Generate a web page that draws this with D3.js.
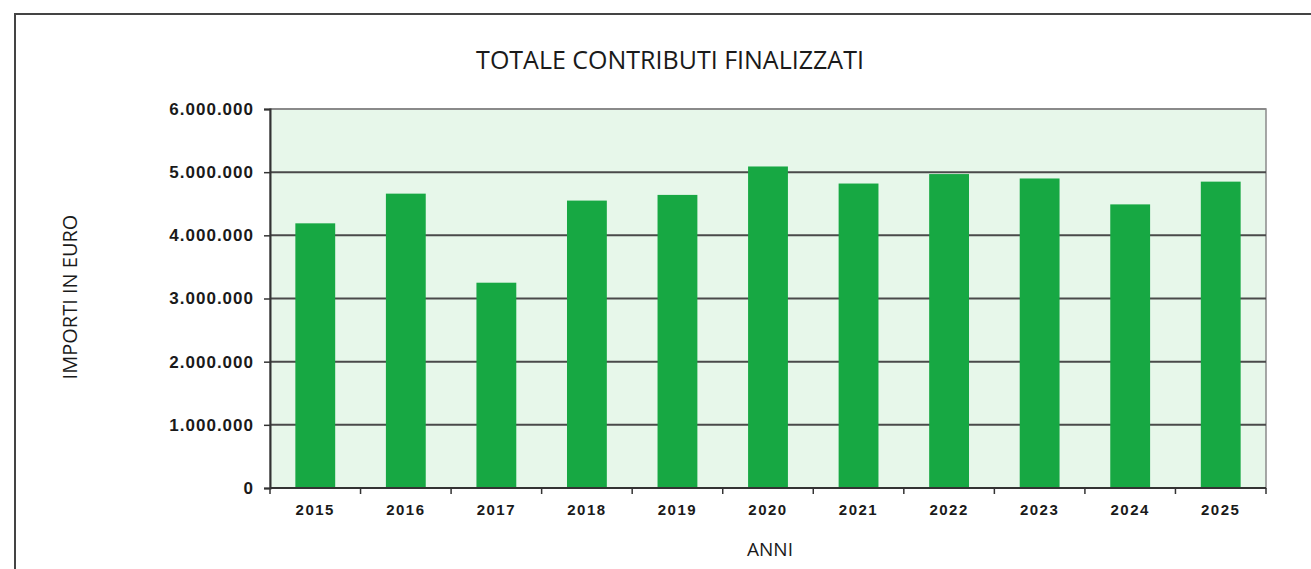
<!DOCTYPE html>
<html>
<head>
<meta charset="utf-8">
<script src="https://cdn.jsdelivr.net/npm/d3@7"></script>
<style>
  html, body { margin: 0; padding: 0; background: #fff; }
  svg { display: block; }
</style>
</head>
<body>
<svg id="chart" width="1311" height="569"></svg>
<script>
const years = ["2015","2016","2017","2018","2019","2020","2021","2022","2023","2024","2025"];
const totals = [4190000, 4660000, 3250000, 4550000, 4640000, 5090000, 4820000, 4970000, 4900000, 4490000, 4850000];
const yTicks = [0, 1000000, 2000000, 3000000, 4000000, 5000000, 6000000];
const title = "TOTALE CONTRIBUTI FINALIZZATI";
const yTitle = "IMPORTI IN EURO";
const xTitle = "ANNI";

const svg = d3.select("#chart");
const W = 1311, H = 569;
const m = { left: 270, right: 1266, top: 109, bottom: 488 };

// outer frame (top and left edges visible)
svg.append("path")
  .attr("d", `M15,${H} L15,14 L${W},14`)
  .attr("fill", "none").attr("stroke", "#444").attr("stroke-width", 2);

const x = d3.scaleBand().domain(years).range([m.left, m.right]).paddingInner(0.56).paddingOuter(0.28);
const xb = d3.scaleBand().domain(years).range([m.left, m.right]);
const y = d3.scaleLinear().domain([0, 6000000]).range([m.bottom, m.top]);

// plot background
svg.append("rect")
  .attr("x", m.left).attr("y", m.top)
  .attr("width", m.right - m.left).attr("height", m.bottom - m.top)
  .attr("fill", "#e7f7ea").attr("stroke", "#8a8a8a").attr("stroke-width", 1.5);

// gridlines
svg.append("g").selectAll("line").data(yTicks.filter(d => d > 0))
  .join("line")
  .attr("x1", m.left).attr("x2", m.right)
  .attr("y1", d => y(d)).attr("y2", d => y(d))
  .attr("stroke", d => d === 6000000 ? "#8a8a8a" : "#4a4a4a")
  .attr("stroke-width", 2);

// bars
svg.append("g").selectAll("rect").data(years)
  .join("rect")
  .attr("x", d => x(d))
  .attr("width", x.bandwidth())
  .attr("y", (d, i) => y(totals[i]))
  .attr("height", (d, i) => y(0) - y(totals[i]))
  .attr("fill", "#17a843");

const fmt = v => d3.format(",")(v).replace(/,/g, ".");

// y axis
const yAxis = svg.append("g")
  .attr("transform", `translate(${m.left},0)`)
  .call(d3.axisLeft(y).tickValues(yTicks).tickFormat(fmt).tickSize(6).tickPadding(10));
yAxis.select(".domain").attr("stroke", "#333").attr("stroke-width", 2);
yAxis.selectAll(".tick line").attr("stroke", "#333").attr("stroke-width", 1.5);
yAxis.selectAll(".tick text")
  .attr("fill", "#1a1a1a")
  .style("font-family", "'Liberation Sans', Arial, sans-serif")
  .style("font-weight", "bold")
  .style("font-size", "17px")
  .style("letter-spacing", "1px");

// x axis: boundary ticks
const xAxisG = svg.append("g").attr("transform", `translate(0,${m.bottom})`);
xAxisG.append("line")
  .attr("x1", m.left).attr("x2", m.right).attr("y1", 0).attr("y2", 0)
  .attr("stroke", "#333").attr("stroke-width", 2);
const bounds = years.map(d => xb(d)).concat([m.right]);
xAxisG.selectAll("line.tk").data(bounds).join("line")
  .attr("class", "tk")
  .attr("x1", d => d).attr("x2", d => d)
  .attr("y1", 0).attr("y2", 6)
  .attr("stroke", "#333").attr("stroke-width", 1.5);
xAxisG.selectAll("text").data(years).join("text")
  .attr("x", d => xb(d) + xb.bandwidth() / 2)
  .attr("y", 27)
  .attr("text-anchor", "middle")
  .attr("fill", "#1a1a1a")
  .style("font-family", "'Liberation Sans', Arial, sans-serif")
  .style("font-weight", "bold")
  .style("font-size", "15px")
  .style("letter-spacing", "1.5px")
  .text(d => d);

// titles
svg.append("text")
  .attr("x", 670).attr("y", 69)
  .attr("text-anchor", "middle")
  .attr("fill", "#1a1a1a")
  .style("font-family", "'Open Sans', sans-serif")
  .style("font-size", "25px")
  .text(title);

svg.append("text")
  .attr("transform", `translate(77,297) rotate(-90)`)
  .attr("text-anchor", "middle")
  .attr("fill", "#1a1a1a")
  .style("font-family", "'Open Sans', sans-serif")
  .style("font-size", "20px")
  .text(yTitle);

svg.append("text")
  .attr("x", 770).attr("y", 556)
  .attr("text-anchor", "middle")
  .attr("fill", "#1a1a1a")
  .style("font-family", "'Open Sans', sans-serif")
  .style("font-size", "19px")
  .text(xTitle);
</script>
</body>
</html>
